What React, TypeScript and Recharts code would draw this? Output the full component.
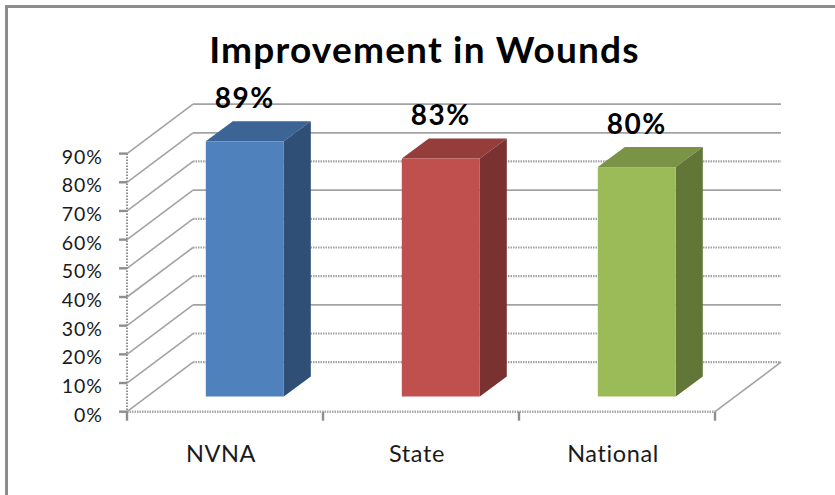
import React from 'react';
import { BarChart, Bar, XAxis, YAxis, CartesianGrid, LabelList } from 'recharts';

const categories = ['NVNA', 'State', 'National'];
const values = [89, 83, 80];
const yTicks = [0, 10, 20, 30, 40, 50, 60, 70, 80, 90];

// colours for each bar: front, top, side
const frontColors = ['#4F81BD', '#C0504D', '#9BBB59'];
const topColors = ['#3C6494', '#943D3B', '#7A9346'];
const sideColors = ['#2F4F77', '#7A3230', '#627637'];

// gridlines that look dotted in the picture, counted from the 0% line
const dottedLines = [0, 1, 3, 4, 5, 7];

const data = categories.map((name, i) => ({ name, value: values[i] }));

const FONT = 'Lato, sans-serif';
const GRID = '#a3a3a3';
const AXIS = '#8e8e8e';

// fake 3d offsets, in px
const WALL_DX = 66;
const WALL_DY = -49.5;
const BAR_DX = 20;
const BAR_DY = -15.2;
const BAR_DEPTH_X = 27;
const BAR_DEPTH_Y = -20;

const PLOT_LEFT = 127;
const PLOT_TOP = 153.6;
const PLOT_BOTTOM = 411.7;
const PLOT_WIDTH = 588;

const Prism = (props: any) => {
  const { x, y, width, height, index } = props;
  const x0 = x + BAR_DX;
  const x1 = x0 + width;
  const y0 = y + BAR_DY;
  const y1 = y0 + height;
  const dx = BAR_DEPTH_X;
  const dy = BAR_DEPTH_Y;
  return (
    <g>
      <polygon
        points={`${x0},${y0} ${x0 + dx},${y0 + dy} ${x1 + dx},${y0 + dy} ${x1},${y0}`}
        fill={topColors[index]}
      />
      <polygon
        points={`${x1},${y0} ${x1 + dx},${y0 + dy} ${x1 + dx},${y1 + dy} ${x1},${y1}`}
        fill={sideColors[index]}
      />
      <rect x={x0} y={y0} width={width} height={height} fill={frontColors[index]} />
    </g>
  );
};

const GridLine = (props: any) => {
  const { x1, x2, y1 } = props;
  const value = Math.round(((PLOT_BOTTOM - y1) / (PLOT_BOTTOM - PLOT_TOP)) * 9);
  const dotted = dottedLines.includes(value);
  return (
    <g>
      <line
        x1={x1}
        y1={y1}
        x2={x1 + WALL_DX}
        y2={y1 + WALL_DY}
        stroke={GRID}
        strokeWidth={1.6}
      />
      <line
        x1={x1 + WALL_DX}
        y1={y1 + WALL_DY}
        x2={x2 + WALL_DX}
        y2={y1 + WALL_DY}
        stroke={GRID}
        strokeWidth={dotted ? 2.2 : 1.8}
        strokeDasharray={dotted ? '1.5 1' : undefined}
      />
      {value === 0 && (
        <line
          x1={x2}
          y1={y1}
          x2={x2 + WALL_DX}
          y2={y1 + WALL_DY}
          stroke={GRID}
          strokeWidth={1.6}
        />
      )}
    </g>
  );
};

const CategoryTick = (props: any) => {
  const { x, y, payload, index } = props;
  const band = PLOT_WIDTH / categories.length;
  const left = x - band / 2;
  const right = x + band / 2;
  return (
    <g>
      <line x1={left} y1={y} x2={left} y2={y + 9} stroke={AXIS} strokeWidth={2.4} />
      {index === categories.length - 1 && (
        <line x1={right} y1={y} x2={right} y2={y + 9} stroke={AXIS} strokeWidth={2.4} />
      )}
      <text
        x={x - 4}
        y={y + 50}
        textAnchor="middle"
        fontFamily={FONT}
        fontSize={23.5}
        letterSpacing={0.6}
        fill="#1a1a1a"
      >
        {payload.value}
      </text>
    </g>
  );
};

const ValueLabel = (props: any) => {
  const { x, y, width, value } = props;
  return (
    <text
      x={x + BAR_DX + width / 2}
      y={y + BAR_DY - 33}
      textAnchor="middle"
      fontFamily={FONT}
      fontWeight={700}
      fontSize={28}
      letterSpacing={1.5}
      fill="#000"
    >
      {value}%
    </text>
  );
};

export default function App() {
  return (
    <div style={{ position: 'absolute', left: 0, top: 0, width: 835, height: 495, background: '#fff' }}>
      <div
        style={{
          position: 'absolute',
          left: 5,
          top: 5,
          right: 0,
          bottom: 0,
          borderTop: '3px solid #8c8c8c',
          borderLeft: '3px solid #8c8c8c',
        }}
      />
      <div style={{ position: 'absolute', left: 0, top: 0 }}>
        <BarChart
          width={835}
          height={495}
          data={data}
          margin={{ top: PLOT_TOP, right: 835 - PLOT_LEFT - PLOT_WIDTH, bottom: 0, left: 0 }}
          barCategoryGap="30%"
        >
          <text
            x={424.5}
            y={63}
            textAnchor="middle"
            fontFamily={FONT}
            fontWeight={700}
            fontSize={37}
            letterSpacing={1.2}
            fill="#000"
          >
            Improvement in Wounds
          </text>
          <CartesianGrid horizontal={GridLine} vertical={false} />
          <XAxis
            dataKey="name"
            height={495 - PLOT_BOTTOM}
            axisLine={{ stroke: '#a8a8a8', strokeWidth: 2.6, strokeDasharray: '1.5 1' }}
            tickLine={false}
            tickSize={0}
            tickMargin={0}
            tick={CategoryTick}
            interval={0}
          />
          <YAxis
            width={PLOT_LEFT}
            domain={[0, 90]}
            ticks={yTicks}
            tickFormatter={(v: number) => `${v}%`}
            axisLine={{ stroke: '#8e8e8e', strokeWidth: 2, strokeDasharray: '1.5 1.5' }}
            tickLine={{ stroke: AXIS, strokeWidth: 2.4 }}
            tickSize={8}
            tickMargin={16}
            tick={{ fontFamily: FONT, fontSize: 19.5, fill: '#1a1a1a', letterSpacing: 1, dy: 3 }}
            interval={0}
          />
          <Bar dataKey="value" shape={Prism} isAnimationActive={false}>
            <LabelList dataKey="value" content={ValueLabel} />
          </Bar>
        </BarChart>
      </div>
    </div>
  );
}
